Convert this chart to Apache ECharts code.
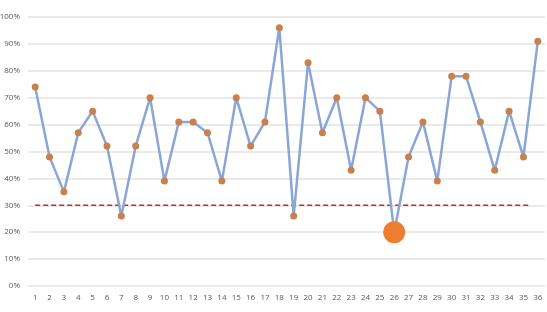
<!DOCTYPE html>
<html>
<head>
<meta charset="utf-8">
<script src="https://cdn.jsdelivr.net/npm/echarts@6/dist/echarts.min.js"></script>
<style>
html, body { margin: 0; padding: 0; background: #fff; }
#main { width: 547px; height: 312px; }
</style>
</head>
<body>
<div id="main"></div>
<script>
var categories = [];
for (var i = 1; i <= 36; i++) categories.push(String(i));

var values = [0.74, 0.48, 0.35, 0.57, 0.65, 0.52, 0.26, 0.52, 0.70, 0.39,
              0.61, 0.61, 0.57, 0.39, 0.70, 0.52, 0.61, 0.96, 0.26, 0.83,
              0.57, 0.70, 0.43, 0.70, 0.65, 0.20, 0.48, 0.61, 0.39, 0.78,
              0.78, 0.61, 0.43, 0.65, 0.48, 0.91];

// dashed reference line: level and the span (in category units) it covers
var threshold = 0.3;
var thresholdSpan = [1, 35.5];
var highlightIndex = 25;

var c = echarts.init(document.getElementById("main"));
var option = {
	animation: false,
	grid: { left: 28, right: 2, top: 17, bottom: 26, outerBoundsMode: 'none' },
	xAxis: [{
		type: 'category',
		data: categories,
		boundaryGap: true,
		axisLine: { show: false },
		axisTick: { show: false },
		axisLabel: { color: '#595959', fontSize: 8, margin: 8, interval: 0, fontFamily: 'Open Sans' }
	}, {
		type: 'value',
		min: 0.5,
		max: 36.5,
		show: false
	}],
	yAxis: {
		type: 'value',
		min: 0,
		max: 1,
		interval: 0.1,
		axisLine: { show: false },
		axisTick: { show: false },
		axisLabel: {
			color: '#595959', fontSize: 8, margin: 8, fontFamily: 'Open Sans',
			formatter: function (v) { return Math.round(v * 100) + '%'; }
		},
		splitLine: { lineStyle: { color: '#e3e3e3', width: 1.5 } }
	},
	series: [
		{
			type: 'line',
			xAxisIndex: 1,
			data: thresholdSpan.map(function (x) { return [x, threshold]; }),
			symbol: 'none',
			silent: true,
			lineStyle: { color: '#c62828', type: [5, 3], width: 1.5 },
			z: 2
		},
		{
			type: 'line',
			data: values.map(function (v, i) {
				if (i === highlightIndex) {
					return { value: v, symbolSize: 22, itemStyle: { color: '#ed7d31' } };
				}
				return v;
			}),
			symbol: 'circle',
			symbolSize: 7,
			lineStyle: { color: '#8aa6d6', width: 2.5 },
			itemStyle: { color: '#c8804d' },
			z: 3
		}
	]
};
c.setOption(option);
</script>
</body>
</html>
